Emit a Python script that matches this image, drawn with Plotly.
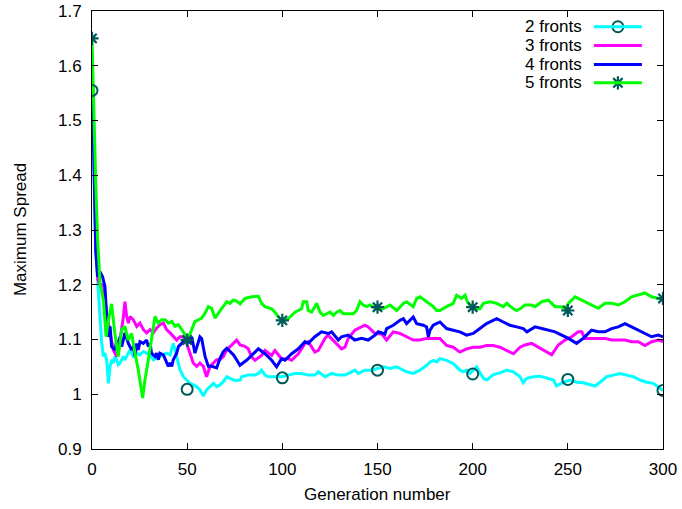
import plotly.graph_objects as go

# ---------------- data ----------------
gen2 = [0, 1, 2, 3.3, 4.2, 5.1, 6, 6.8, 7.7, 8.6, 9.5, 10.3, 11.2, 12.1, 13, 13.8, 14.7, 15.6, 16.5, 17.3,
        18.2, 19.1, 20, 20.8, 21.7, 23.5, 25.2, 27, 28.7, 30.5, 32.2, 34, 35.7, 37.5, 39.2, 41, 42.7, 43.6,
        44.5, 45.4, 46.2, 47.1, 48, 49.7, 51.5, 53.2, 55, 56.7, 58.5, 60.2, 62, 63.8, 65.5, 67.2, 69, 70.8,
        72.5, 74.3, 76, 77.8, 78.6, 82.1, 85.6, 87.4, 89.1, 90.9, 92.6, 96.1, 99.6, 103.1, 106.6, 110.1,
        113.6, 117.1, 118.9, 122.4, 125.9, 129.4, 132.9, 136.4, 138.1, 139.9, 143.4, 146.9, 150.4, 153.1,
        156.6, 160.1, 161.8, 165.3, 168.8, 172.3, 175.8, 177.6, 179.3, 181.1, 182.8, 186.3, 189.8, 191.6,
        193.3, 195.1, 196.8, 198.6, 202.1, 205.6, 207.4, 210.9, 214.4, 217.9, 221.4, 224.9, 226.6, 228.4,
        231.9, 235.4, 238.9, 242.4, 244.1, 247.6, 251.1, 254.6, 258.1, 261.6, 264.3, 266.9, 270.4, 273.9,
        277.4, 280.9, 284.4, 287.9, 291.4, 294.9, 297.5, 300]
spread2 = [1.555, 1.40, 1.26, 1.19, 1.136, 1.093, 1.069, 1.075, 1.063, 1.020, 1.051, 1.063, 1.057, 1.069,
           1.063, 1.054, 1.057, 1.063, 1.069, 1.063, 1.069, 1.075, 1.081, 1.075, 1.069, 1.075, 1.072, 1.078,
           1.075, 1.072, 1.063, 1.066, 1.069, 1.072, 1.075, 1.072, 1.093, 1.081, 1.069, 1.057, 1.045, 1.039,
           1.032, 1.026, 1.020, 1.017, 1.014, 1.008, 0.997, 1.008, 1.014, 1.020, 1.014, 1.017, 1.023, 1.032,
           1.029, 1.026, 1.025, 1.026, 1.032, 1.035, 1.035, 1.038, 1.044, 1.035, 1.032, 1.032, 1.032, 1.035,
           1.038, 1.038, 1.035, 1.035, 1.041, 1.032, 1.038, 1.035, 1.035, 1.041, 1.044, 1.038, 1.044, 1.044,
           1.047, 1.050, 1.047, 1.050, 1.047, 1.041, 1.038, 1.044, 1.053, 1.059, 1.062, 1.059, 1.065, 1.062,
           1.056, 1.050, 1.044, 1.041, 1.044, 1.038, 1.050, 1.029, 1.026, 1.036, 1.039, 1.044, 1.041, 1.032,
           1.021, 1.029, 1.032, 1.033, 1.029, 1.026, 1.015, 1.022, 1.026, 1.022, 1.021, 1.018, 1.015, 1.022,
           1.032, 1.035, 1.038, 1.035, 1.032, 1.026, 1.022, 1.020, 1.013, 1.007]

gen3 = [0, 1, 2, 3, 4.2, 6, 7.7, 9.5, 11.2, 13, 14.7, 16.5, 17.3, 18.2, 19.1, 20, 21.7, 23.5, 25.2, 27,
        28.7, 30.5, 32.2, 34, 35.7, 37.5, 39.2, 41, 42.7, 44.5, 46.2, 48, 49.7, 51.5, 53.2, 55, 56.7, 58.5,
        60.2, 62, 63.8, 65.5, 67.2, 69, 70.8, 72.5, 74.3, 76, 77.8, 80, 82.1, 83.9, 85.6, 89.1, 90.9, 94.4,
        96.1, 99.6, 103.1, 104.9, 108.4, 111.9, 113.6, 117.1, 118.9, 122.4, 124.1, 127.6, 131.1, 132.9,
        134.6, 138.1, 139.9, 143.4, 145.1, 148.7, 152.2, 154.8, 158.3, 161.8, 165.3, 168.8, 172.3, 175.8,
        179.3, 182.8, 186.3, 189.8, 193.3, 196.8, 200.3, 203.8, 207.3, 210.8, 214.3, 217.9, 221.4, 224.9,
        227.5, 231, 234.5, 238, 241.5, 245, 248.5, 252, 255.5, 257.3, 259, 262.5, 266, 269.5, 273, 276.5,
        280, 283.5, 287, 290.5, 294, 297.5, 300]
spread3 = [1.62, 1.42, 1.28, 1.21, 1.20, 1.20, 1.148, 1.112, 1.081, 1.069, 1.099, 1.142, 1.169, 1.142,
           1.130, 1.142, 1.136, 1.124, 1.130, 1.118, 1.112, 1.118, 1.112, 1.121, 1.127, 1.130, 1.118, 1.112,
           1.105, 1.099, 1.105, 1.105, 1.093, 1.075, 1.057, 1.051, 1.057, 1.051, 1.032, 1.051, 1.057, 1.063,
           1.063, 1.069, 1.081, 1.087, 1.093, 1.099, 1.090, 1.088, 1.083, 1.068, 1.062, 1.071, 1.080, 1.071,
           1.080, 1.065, 1.065, 1.062, 1.074, 1.093, 1.096, 1.077, 1.080, 1.102, 1.108, 1.096, 1.083, 1.086,
           1.102, 1.117, 1.120, 1.126, 1.123, 1.111, 1.110, 1.099, 1.114, 1.111, 1.105, 1.099, 1.099, 1.102,
           1.102, 1.102, 1.089, 1.086, 1.077, 1.083, 1.086, 1.086, 1.089, 1.089, 1.086, 1.080, 1.074, 1.086,
           1.090, 1.093, 1.086, 1.080, 1.072, 1.090, 1.099, 1.105, 1.114, 1.114, 1.102, 1.102, 1.102, 1.102,
           1.099, 1.099, 1.099, 1.096, 1.096, 1.089, 1.096, 1.099, 1.096]

gen4 = [0, 1, 2, 3, 4.2, 5.5, 6.8, 7.7, 8.6, 9.5, 10.3, 12.1, 13, 13.8, 14.7, 15.6, 17.3, 19.1, 20.8, 21.7,
        22.6, 23.5, 24.3, 25.2, 27, 28.7, 29.6, 30.5, 31.3, 33.1, 34, 34.9, 35.7, 37.5, 39.2, 40.1, 41, 41.9,
        42.7, 44.5, 45.4, 47.1, 48.9, 49.7, 51.5, 52.4, 54.1, 56.7, 57.6, 59.4, 61.1, 62.9, 65.5, 67.3, 69,
        70.8, 72.5, 74.3, 76, 77.7, 81.2, 84.7, 87.4, 90.9, 94.4, 97, 99.6, 101.4, 104.9, 108.4, 111.9, 113.6,
        117.1, 120.6, 124.1, 125.9, 129.4, 131.1, 134.6, 138.1, 141.6, 145.1, 148.7, 150.4, 153.9, 154.8,
        158.3, 161.8, 163.6, 165.3, 168.8, 170.6, 174.1, 175.8, 176.7, 177.6, 179.3, 182.8, 186.3, 189.8,
        193.3, 196.8, 200.3, 203.8, 207.3, 210.8, 212.6, 216.1, 219.6, 223.1, 226.6, 228.5, 231, 232.8,
        236.3, 239.8, 243.3, 246.8, 250.3, 254.6, 258.1, 262.5, 266, 269.5, 273, 276.5, 280, 283.5, 287,
        290.5, 294, 297.5, 300]
spread4 = [1.60, 1.40, 1.26, 1.215, 1.224, 1.215, 1.197, 1.142, 1.105, 1.124, 1.087, 1.081, 1.099, 1.087,
           1.105, 1.087, 1.112, 1.093, 1.081, 1.087, 1.069, 1.093, 1.081, 1.096, 1.093, 1.099, 1.087, 1.093,
           1.075, 1.069, 1.075, 1.063, 1.075, 1.072, 1.060, 1.051, 1.057, 1.051, 1.063, 1.075, 1.087, 1.093,
           1.099, 1.105, 1.093, 1.105, 1.075, 1.105, 1.102, 1.069, 1.051, 1.051, 1.048, 1.066, 1.078, 1.084,
           1.078, 1.072, 1.063, 1.053, 1.062, 1.074, 1.083, 1.074, 1.062, 1.050, 1.065, 1.062, 1.074, 1.083,
           1.096, 1.093, 1.105, 1.114, 1.111, 1.114, 1.099, 1.105, 1.108, 1.099, 1.102, 1.099, 1.108, 1.114,
           1.110, 1.120, 1.126, 1.135, 1.138, 1.129, 1.141, 1.129, 1.126, 1.123, 1.105, 1.117, 1.126, 1.132,
           1.120, 1.117, 1.114, 1.108, 1.111, 1.120, 1.129, 1.135, 1.138, 1.132, 1.126, 1.123, 1.120, 1.114,
           1.120, 1.123, 1.120, 1.117, 1.114, 1.108, 1.102, 1.093, 1.102, 1.117, 1.114, 1.114, 1.120, 1.123,
           1.129, 1.123, 1.117, 1.111, 1.105, 1.108, 1.105]

gen5 = [0, 1, 2, 3, 4.2, 6, 7.4, 8.6, 10.3, 12, 13.8, 15.6, 17.3, 19, 20.8, 22.6, 24.3, 26.6, 27.8, 29.6,
        31.3, 33.1, 34.8, 36.6, 38.4, 40.1, 41.9, 43.6, 45.4, 47.1, 48.9, 50.6, 52.4, 54.1, 55.9, 57.6, 59.4,
        61.1, 62.9, 64.6, 66.4, 68.1, 70.8, 72.5, 74.3, 76, 77.8, 80.4, 83.9, 87.4, 89.1, 90.9, 94.4, 96.1,
        97.9, 99.6, 101.4, 103.1, 104.9, 106.6, 108.4, 110.1, 111, 112.8, 113.6, 115.4, 117.1, 118, 119.8,
        121.5, 123.3, 125, 126.8, 128.5, 130.3, 132, 135.5, 137.3, 139, 140.8, 142.5, 144.3, 146, 147.8,
        149.5, 151.3, 153.9, 156.6, 160.1, 163.6, 165.3, 168.8, 170.6, 172.3, 175.8, 179.3, 181.1, 182.8,
        186.3, 189.8, 191.6, 194.2, 196, 197.2, 199.5, 202.1, 203.8, 205.6, 209.1, 212.6, 216.1, 217.9,
        221.4, 223.1, 224.9, 227.5, 231, 232.8, 236.3, 239.8, 243.3, 246.8, 248.5, 250.3, 253.8, 257.3,
        260.8, 264.3, 266, 269.5, 273, 276.5, 280, 283.5, 287, 290.5, 294, 297.5, 300]
spread5 = [1.65, 1.50, 1.38, 1.28, 1.203, 1.172, 1.105, 1.135, 1.165, 1.111, 1.069, 1.118, 1.124, 1.099,
           1.111, 1.075, 1.045, 0.993, 1.026, 1.063, 1.099, 1.142, 1.130, 1.136, 1.136, 1.130, 1.133, 1.124,
           1.127, 1.118, 1.109, 1.102, 1.118, 1.133, 1.136, 1.139, 1.148, 1.160, 1.157, 1.139, 1.148, 1.157,
           1.169, 1.166, 1.172, 1.170, 1.165, 1.175, 1.178, 1.179, 1.166, 1.160, 1.156, 1.150, 1.141, 1.135,
           1.135, 1.138, 1.144, 1.150, 1.153, 1.156, 1.169, 1.169, 1.153, 1.150, 1.160, 1.166, 1.150, 1.144,
           1.147, 1.150, 1.144, 1.150, 1.153, 1.147, 1.147, 1.147, 1.153, 1.169, 1.163, 1.160, 1.163, 1.160,
           1.156, 1.155, 1.158, 1.163, 1.153, 1.166, 1.169, 1.160, 1.175, 1.178, 1.169, 1.160, 1.153, 1.153,
           1.160, 1.166, 1.181, 1.175, 1.181, 1.169, 1.158, 1.156, 1.156, 1.166, 1.169, 1.166, 1.160, 1.166,
           1.156, 1.153, 1.156, 1.163, 1.163, 1.160, 1.169, 1.172, 1.160, 1.160, 1.154, 1.166, 1.178, 1.172,
           1.166, 1.160, 1.157, 1.166, 1.166, 1.163, 1.169, 1.178, 1.181, 1.185, 1.178, 1.175, 1.173]

marker_gens = [0, 50, 100, 150, 200, 250, 300]
marker2 = [1.555, 1.009, 1.030, 1.044, 1.037, 1.027, 1.007]
marker5 = [1.650, 1.099, 1.135, 1.159, 1.159, 1.153, 1.175]

legend_labels = ["2 fronts", "3 fronts", "4 fronts", "5 fronts"]
y_ticks = [0.9, 1.0, 1.1, 1.2, 1.3, 1.4, 1.5, 1.6, 1.7]
y_ticktext = ["0.9", "1", "1.1", "1.2", "1.3", "1.4", "1.5", "1.6", "1.7"]
x_ticks = [0, 50, 100, 150, 200, 250, 300]

# ---------------- styling ----------------
FONT = "Liberation Sans, Arial, sans-serif"
FS = 17
colors = ["#00FFFF", "#FF00FF", "#0000FF", "#00FF00"]
mark_color = "#005a5a"
LW = 3

fig = go.Figure()
series = [(gen2, spread2), (gen3, spread3), (gen4, spread4), (gen5, spread5)]
for (gx, gy), c in zip(series, colors):
    fig.add_trace(go.Scatter(x=gx, y=gy, mode="lines", line=dict(color=c, width=LW),
                             showlegend=False, hoverinfo="skip"))

fig.add_trace(go.Scatter(x=marker_gens, y=marker2, mode="markers", showlegend=False,
                         marker=dict(symbol="circle-open", size=11, color=mark_color,
                                     line=dict(width=2, color=mark_color))))
fig.add_trace(go.Scatter(x=marker_gens, y=marker5, mode="markers", showlegend=False,
                         marker=dict(symbol="asterisk-open", size=11, color=mark_color,
                                     line=dict(width=2.2, color=mark_color))))

# ---------------- custom gnuplot-style legend (text left of sample) ----------------
leg_rows = [0.964, 0.921, 0.878, 0.836]
leg_x0, leg_x1, leg_xm, leg_tx = 0.879, 0.963, 0.921, 0.862
for lab, c, ry in zip(legend_labels, colors, leg_rows):
    fig.add_shape(type="line", xref="paper", yref="paper", x0=leg_x0, x1=leg_x1, y0=ry, y1=ry,
                  line=dict(color=c, width=LW))
    fig.add_annotation(xref="paper", yref="paper", x=leg_tx, y=ry, text=lab, showarrow=False,
                       xanchor="right", yanchor="middle", font=dict(family=FONT, size=FS, color="black"))
fig.add_trace(go.Scatter(x=[leg_xm], y=[leg_rows[0]], xaxis="x2", yaxis="y2", mode="markers",
                         showlegend=False, hoverinfo="skip",
                         marker=dict(symbol="circle-open", size=11, color=mark_color,
                                     line=dict(width=2, color=mark_color))))
fig.add_trace(go.Scatter(x=[leg_xm], y=[leg_rows[3]], xaxis="x2", yaxis="y2", mode="markers",
                         showlegend=False, hoverinfo="skip",
                         marker=dict(symbol="asterisk-open", size=11, color=mark_color,
                                     line=dict(width=2.2, color=mark_color))))

# axis titles
fig.add_annotation(xref="paper", yref="paper", x=0.5, y=-0.103, text="Generation number", showarrow=False,
                   xanchor="center", yanchor="middle", font=dict(family=FONT, size=FS, color="black"))
fig.add_annotation(xref="paper", yref="paper", x=-0.126, y=0.5, text="Maximum Spread", showarrow=False,
                   textangle=-90, xanchor="center", yanchor="middle",
                   font=dict(family=FONT, size=FS, color="black"))

axis_common = dict(showline=True, linecolor="black", linewidth=1, mirror="allticks", ticks="inside",
                   ticklen=6, tickwidth=1, tickcolor="black", showgrid=False, zeroline=False,
                   automargin=False, tickfont=dict(family=FONT, size=FS, color="black"))
fig.update_layout(
    width=682, height=509,
    margin=dict(l=92, r=19, t=11, b=60, autoexpand=False),
    paper_bgcolor="white", plot_bgcolor="white",
    font=dict(family=FONT, size=FS, color="black"),
    xaxis=dict(range=[0, 300], tickvals=x_ticks, ticklabelstandoff=5, **axis_common),
    yaxis=dict(range=[0.9, 1.7], tickvals=y_ticks, ticktext=y_ticktext, ticklabelstandoff=6, **axis_common),
    xaxis2=dict(range=[0, 1], overlaying="x", visible=False, fixedrange=True),
    yaxis2=dict(range=[0, 1], overlaying="y", visible=False, fixedrange=True),
    showlegend=False,
)

# the page's default 8px body margin would shift the figure; remove it
fig.write_html("out.html", config={"displayModeBar": False},
               post_script="document.body.style.margin='0px';")
